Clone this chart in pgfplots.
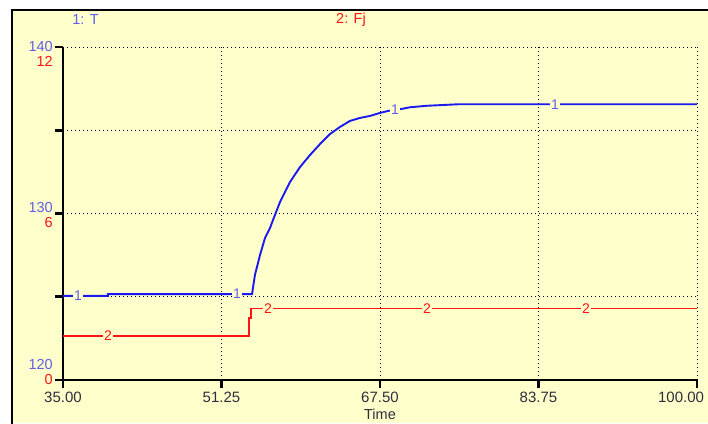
\documentclass[border=0pt]{standalone}
\usepackage{pgfplots}
\pgfplotsset{compat=1.18}
\usepackage{fontspec}
\setmainfont{Liberation Sans}
\definecolor{bg}{RGB}{255,255,204}
\definecolor{tblue}{RGB}{25,25,240}
\definecolor{lblue}{RGB}{95,95,235}
\definecolor{tred}{RGB}{255,20,20}
\definecolor{ticktxt}{RGB}{45,45,60}
\pgfplotstableread{
t T
35.00 125.05
39.60 125.05
39.61 125.16
54.38 125.16
54.68 126.31
55.20 127.51
55.71 128.53
56.22 129.13
56.73 129.91
57.25 130.69
57.76 131.29
58.27 131.89
59.30 132.79
60.32 133.51
61.35 134.17
62.37 134.77
63.40 135.20
64.42 135.56
65.45 135.74
66.47 135.86
67.50 136.04
68.32 136.16
69.55 136.26
70.57 136.38
72.32 136.47
75.50 136.56
100.00 136.56
}\tabT
\pgfplotstableread{
t F
35.00 1.59
54.10 1.59
54.10 2.23
54.24 2.23
54.24 2.58
100.00 2.58
}\tabF
\begin{document}
\begin{tikzpicture}[x=1pt,y=1pt]
\useasboundingbox (0,0) rectangle (708,423);
\fill[white] (0,0) rectangle (708,423);
\fill[bg] (12,0) rectangle (708,413);
\draw[line width=2.2pt] (12,-2) -- (12,413) -- (710,413);
\begin{axis}[
  at={(63pt,43pt)}, anchor=south west, scale only axis,
  width=634pt, height=333pt,
  xmin=35, xmax=100, ymin=120, ymax=140,
  axis x line=bottom, axis y line=left,
  axis line style={-},
  every outer x axis line/.append style={line width=2.8pt, black},
  every outer y axis line/.append style={line width=2.8pt, black},
  tick align=outside, major tick length=8pt,
  every tick/.style={line width=2.8pt, black},
  xtick={35,51.25,67.5,83.75,100},
  xticklabels={35.00,51.25,67.50,83.75,\hspace{14pt}\makebox[0pt][r]{100.00}},
  ytick={120,125,130,135,140}, yticklabels={},
  grid=major,
  grid style={black, line width=0.9pt, dash pattern=on 0.9pt off 3.1pt},
  xticklabel style={font=\fontsize{15}{17}\selectfont, text=ticktxt, inner sep=1pt, yshift=-3pt},
  xlabel={Time}, xlabel style={font=\fontsize{14.5}{16}\selectfont, text=ticktxt, inner sep=1pt, yshift=-4pt},
  clip=false,
]
\addplot[tblue, line width=1.9pt] table[x=t,y=T] {\tabT};
\foreach \xx/\yy in {36.54/125.05, 52.84/125.16, 69.04/136.22, 85.44/136.56}{
  \edef\tmp{\noexpand\node[fill=bg, inner sep=1.2pt, text=lblue, font=\noexpand\fontsize{14}{15}\noexpand\selectfont] at (axis cs:\xx,\yy) {1};}\tmp
}
\end{axis}
\begin{axis}[
  at={(63pt,43pt)}, anchor=south west, scale only axis,
  width=634pt, height=333pt,
  xmin=35, xmax=100, ymin=0, ymax=12,
  hide axis, clip=false,
]
\addplot[tred, line width=1.8pt] table[x=t,y=F] {\tabF};
\foreach \xx/\yy in {39.61/1.59, 56.02/2.58, 72.32/2.58, 88.62/2.58}{
  \edef\tmp{\noexpand\node[fill=bg, inner sep=1.2pt, text=tred, font=\noexpand\fontsize{14}{15}\noexpand\selectfont] at (axis cs:\xx,\yy) {2};}\tmp
}
\end{axis}
\begin{scope}[font=\fontsize{14.5}{16}\selectfont, inner sep=0pt]
\node[anchor=east, text=lblue] at (53,376.3) {140};
\node[anchor=east, text=tred] at (53,361.3) {12};
\node[anchor=east, text=lblue] at (53,215) {130};
\node[anchor=east, text=tred] at (53,200.3) {6};
\node[anchor=east, text=lblue] at (53,58) {120};
\node[anchor=east, text=tred] at (53,43.7) {0};
\node[text=lblue] at (85.5,403) {1: T};
\node[text=tred] at (351,403) {2: Fj};
\end{scope}
\end{tikzpicture}
\end{document}
